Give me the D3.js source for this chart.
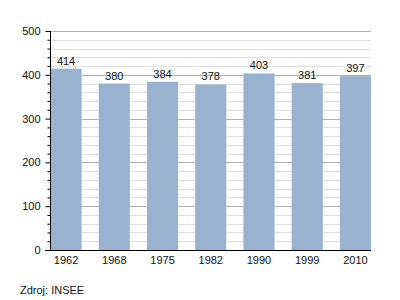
<!DOCTYPE html>
<html><head><meta charset="utf-8">
<script src="https://cdn.jsdelivr.net/npm/d3@7"></script>
<style>body{margin:0;background:#fff}svg{display:block}text{font-family:"Liberation Sans",Arial,sans-serif}</style>
</head><body>
<svg id="c" width="400" height="300"></svg>
<script>
const years = ["1962","1968","1975","1982","1990","1999","2010"];
const population = [414,380,384,378,403,381,397];
const yTicks = [0,100,200,300,400,500];
const sourceText = "Zdroj: INSEE";

(function(){
const svg = d3.select("#c");
const mLeft = 50.5, mRight = 371, mTop = 31, mBottom = 250;
const x = d3.scaleBand().domain(years).range([mLeft, mRight]).paddingInner(0.355).paddingOuter(0);
const y = d3.scaleLinear().domain([0,500]).range([mBottom, mTop]);

const minor = d3.range(0, 501, 20).filter(v => v % 100 !== 0);
svg.append("g").selectAll("line").data(minor).join("line")
  .attr("x1", mLeft).attr("x2", mRight)
  .attr("y1", d => Math.round(y(d)) + 0.5).attr("y2", d => Math.round(y(d)) + 0.5)
  .attr("stroke", "#e0e0e0").attr("stroke-width", 1);
svg.append("g").selectAll("line").data(yTicks.filter(v => v > 0)).join("line")
  .attr("x1", mLeft).attr("x2", mRight)
  .attr("y1", d => Math.round(y(d)) + 0.5).attr("y2", d => Math.round(y(d)) + 0.5)
  .attr("stroke", "#b0b0b0").attr("stroke-width", 1);

svg.append("g").selectAll("rect").data(population).join("rect")
  .attr("x", (d,i) => x(years[i])).attr("width", x.bandwidth())
  .attr("y", d => y(d)).attr("height", d => mBottom - y(d))
  .attr("fill", "#98b3cf");

svg.append("g").selectAll("text").data(population).join("text")
  .attr("x", (d,i) => x(years[i]) + x.bandwidth()/2).attr("y", d => y(d) - 4)
  .attr("text-anchor", "middle").attr("font-size", 11).attr("fill", "#111").text(d => d);

const yAxis = svg.append("g").attr("transform", `translate(${mLeft},0)`)
  .call(d3.axisLeft(y).tickValues(yTicks).tickSize(5).tickPadding(5).tickFormat(d3.format("d")));
yAxis.select(".domain").remove();
yAxis.selectAll("text").attr("font-size", 11).attr("fill", "#111").style("font-family", '"Liberation Sans",Arial,sans-serif');
yAxis.selectAll("line").attr("stroke", "#000");
svg.append("g").attr("transform", `translate(${mLeft},0)`)
  .call(d3.axisLeft(y).tickValues(minor).tickSize(3).tickFormat(""))
  .call(g => g.select(".domain").remove())
  .selectAll("line").attr("stroke", "#000");
svg.append("line").attr("x1", mLeft).attr("x2", mLeft).attr("y1", mTop).attr("y2", mBottom)
  .attr("stroke", "#000").attr("stroke-width", 1);

const xAxis = svg.append("g").attr("transform", `translate(0,${mBottom})`)
  .call(d3.axisBottom(x).tickSize(0).tickPadding(6));
xAxis.select(".domain").remove();
xAxis.selectAll("text").attr("font-size", 11).attr("fill", "#111").style("font-family", '"Liberation Sans",Arial,sans-serif');
svg.append("line").attr("x1", 45).attr("x2", mRight).attr("y1", mBottom + 0.5).attr("y2", mBottom + 0.5)
  .attr("stroke", "#000").attr("stroke-width", 1.2);

svg.append("text").attr("x", 20).attr("y", 294).attr("font-size", 11).attr("fill", "#111").text(sourceText);
})();
</script>
</body></html>
